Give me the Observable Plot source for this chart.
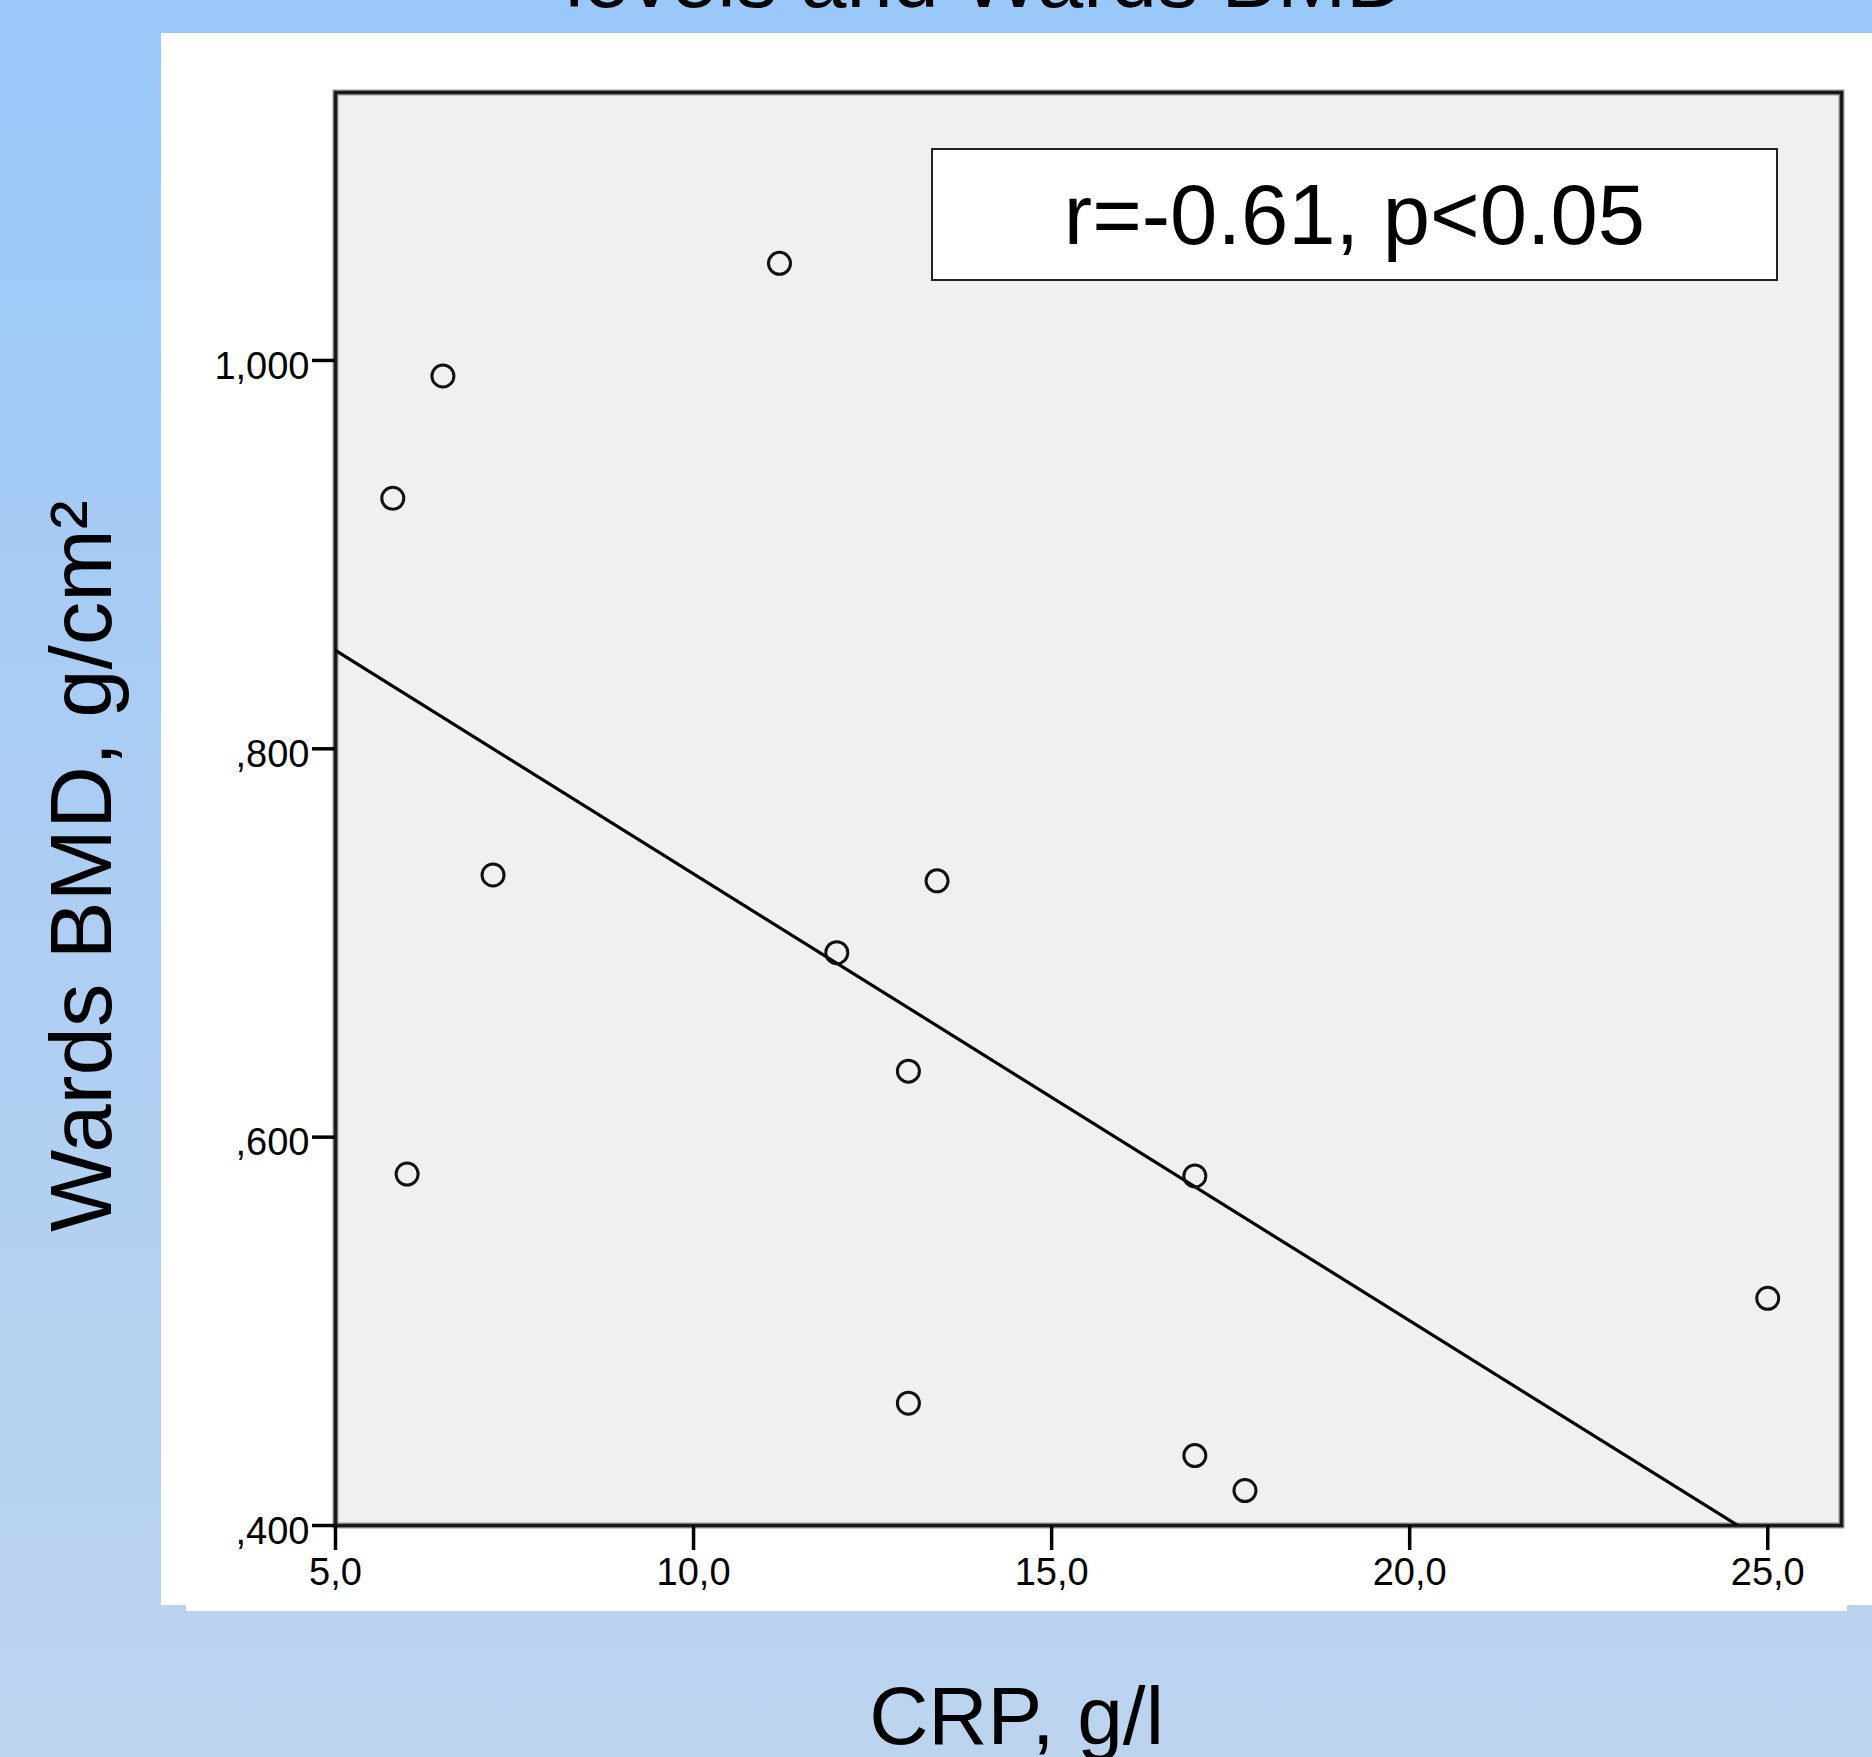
<!DOCTYPE html>
<html>
<head>
<meta charset="utf-8">
<script src="https://cdn.jsdelivr.net/npm/d3@7"></script>
<script src="https://cdn.jsdelivr.net/npm/@observablehq/plot@0.6"></script>
<style>
  html, body { margin: 0; padding: 0; }
  body {
    width: 1872px; height: 1757px; overflow: hidden; position: relative;
    background: linear-gradient(to bottom, #99c8f9 0%, #abcdf3 45%, #bcd4ee 100%);
    font-family: "Liberation Sans", Arial, sans-serif;
  }
  #panel { position: absolute; left: 161px; top: 33px; width: 1711px; height: 1572px; background: #ffffff; z-index: 0; }
  #panel2 { position: absolute; left: 186px; top: 1600px; width: 1661px; height: 11px; background: #ffffff; z-index: 0; }
  #chart { position: absolute; left: 0; top: 0; z-index: 1; }
  #note {
    position: absolute; left: 931px; top: 148px; width: 843px; height: 129px;
    border: 2px solid #222; background: #ffffff; z-index: 2;
    display: flex; align-items: center; justify-content: center;
    font-family: "Liberation Sans", Arial, sans-serif; font-size: 85px; color: #000;
    line-height: 1;
  }
</style>
</head>
<body>
<div id="panel"></div>
<div id="panel2"></div>
<div id="chart"></div>
<div id="note"></div>
<script>
// ---- data ----
const crp = [11.2, 6.5, 5.8, 7.2, 13.4, 12.0, 13.0, 6.0, 17.0, 25.0, 13.0, 17.0, 17.7];
const bmd = [1.050, 0.992, 0.929, 0.735, 0.732, 0.695, 0.634, 0.581, 0.580, 0.517, 0.463, 0.436, 0.418];
const xTicks = [5, 10, 15, 20, 25];
const yTicks = [0.4, 0.6, 0.8, 1.0];
const xDomain = [5, 26.03];
const yDomain = [0.4, 1.138];
const titleFragment = "levels and Wards BMD";
const xLabel = "CRP, g/l";
const yLabel = "Wards BMD, g/cm²";
const annotation = "r=-0.61, p<0.05";

const data = crp.map((x, i) => ({crp: x, bmd: bmd[i]}));

// least-squares fit line computed from the data
const mx = d3.mean(crp), my = d3.mean(bmd);
const sxy = d3.sum(crp, (x, i) => (x - mx) * (bmd[i] - my));
const sxx = d3.sum(crp, x => (x - mx) ** 2);
const slope = sxy / sxx, intercept = my - slope * mx;
const fitLine = xDomain.map(x => ({crp: x, bmd: intercept + slope * x}));

const fmtX = d => d3.format(".1f")(d).replace(".", ",");
const fmtY = d => { const s = d3.format(".3f")(d).replace(".", ","); return s.startsWith("0") ? s.slice(1) : s; };

const font = "'Liberation Sans', Arial, sans-serif";

const chart = Plot.plot({
  width: 1872,
  height: 1757,
  marginLeft: 335,
  marginRight: 31,
  marginTop: 92,
  marginBottom: 232,
  x: {domain: xDomain},
  y: {domain: yDomain},
  style: {background: "transparent", fontFamily: font, fontSize: "38px", color: "black"},
  marks: [
    Plot.frame({fill: "#f0f0f0", stroke: "#9a9a9a", strokeWidth: 6}),
    Plot.frame({stroke: "#1a1a1a", strokeWidth: 3.5}),
    Plot.axisX(xTicks, {tickSize: 25, stroke: "black", strokeWidth: 3.5, tickPadding: 8, tickFormat: fmtX, label: null, fontSize: 38, fill: "black"}),
    Plot.axisY(yTicks, {tickSize: 23, stroke: "black", strokeWidth: 3.5, fill: "none", label: null}),
    Plot.axisY(yTicks, {tickSize: 23, stroke: "none", tickPadding: 3, dy: 6, tickFormat: fmtY, label: null, fontSize: 38, fill: "black"}),
    Plot.line(fitLine, {x: "crp", y: "bmd", stroke: "black", strokeWidth: 3.2, clip: true}),
    Plot.dot(data, {x: "crp", y: "bmd", r: 11, stroke: "#111", strokeWidth: 3, fill: "none"}),
    Plot.text([titleFragment], {text: d => d, frameAnchor: "top", textAnchor: "middle", dx: -103, dy: -86, lineAnchor: "bottom", fontSize: 83, fill: "black"}),
    Plot.text([xLabel], {text: d => d, frameAnchor: "bottom", textAnchor: "middle", dx: -72, dy: 218, lineAnchor: "bottom", fontSize: 82, fill: "black"}),
    Plot.text([yLabel], {text: d => d, frameAnchor: "left", textAnchor: "middle", rotate: -90, dx: -225, dy: 57, lineAnchor: "bottom", fontSize: 87, fill: "black"})
  ]
});
document.getElementById("chart").appendChild(chart);
document.getElementById("note").textContent = annotation;
</script>
</body>
</html>
